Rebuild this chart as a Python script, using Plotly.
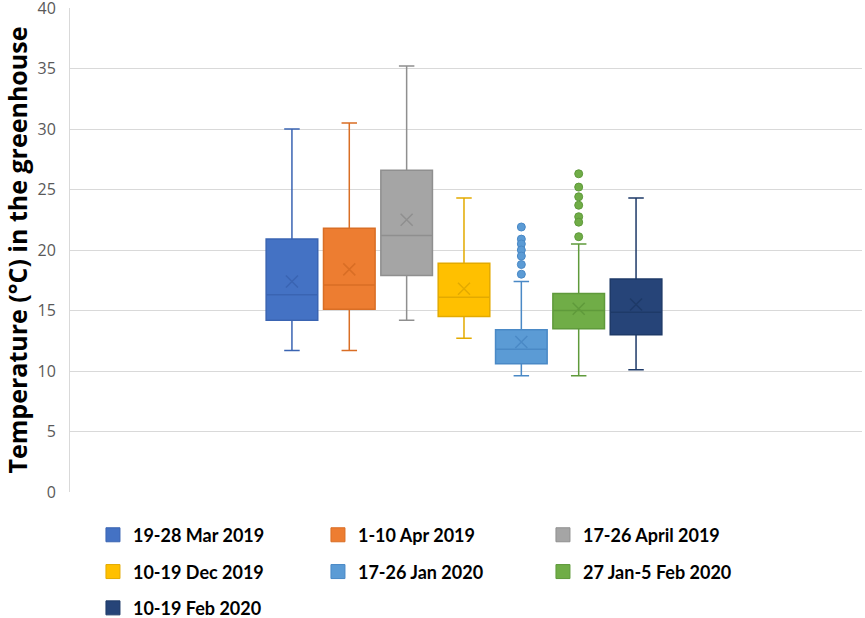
import plotly.graph_objects as go

# periods and box statistics (deg C)
periods = ["19-28 Mar 2019", "1-10 Apr 2019", "17-26 April 2019", "10-19 Dec 2019",
           "17-26 Jan 2020", "27 Jan-5 Feb 2020", "10-19 Feb 2020"]
lower = [11.7, 11.7, 14.2, 12.7, 9.6, 9.6, 10.1]
q1 = [14.2, 15.1, 17.9, 14.5, 10.6, 13.5, 13.0]
median = [16.3, 17.1, 21.2, 16.1, 11.8, 15.0, 14.85]
q3 = [20.9, 21.8, 26.6, 18.9, 13.4, 16.4, 17.6]
upper = [30.0, 30.5, 35.2, 24.3, 17.4, 20.5, 24.3]
mean = [17.4, 18.4, 22.5, 16.8, 12.4, 15.15, 15.5]
outliers = {
    4: [21.9, 20.9, 20.5, 20.0, 19.5, 18.8, 18.0],
    5: [26.3, 25.2, 24.4, 23.7, 22.75, 22.3, 21.1],
}

fills = ["#4472C4", "#ED7D31", "#A5A5A5", "#FFC000", "#5B9BD5", "#70AD47", "#264478"]
lines = ["#3A64B2", "#D96E25", "#8F8F8F", "#E3AA00", "#4A89C6", "#5F9A3B", "#1E3A68"]

fig = go.Figure()

for i, name in enumerate(periods):
    pos = i + 1
    fig.add_trace(go.Box(
        x=[pos], q1=[q1[i]], median=[median[i]], q3=[q3[i]],
        lowerfence=[lower[i]], upperfence=[upper[i]],
        width=0.9, whiskerwidth=0.3,
        fillcolor=fills[i], line=dict(color=lines[i], width=1.5),
        showlegend=False, hoverinfo="skip",
    ))
    fig.add_trace(go.Scatter(
        x=[pos], y=[mean[i]], mode="markers", showlegend=False, hoverinfo="skip",
        marker=dict(symbol="x-thin", size=12, line=dict(color=lines[i], width=1.5)),
    ))
    if i in outliers:
        pts = outliers[i]
        fig.add_trace(go.Scatter(
            x=[pos] * len(pts), y=pts, mode="markers", showlegend=False, hoverinfo="skip",
            marker=dict(symbol="circle", size=8, color=fills[i], line=dict(color=lines[i], width=1)),
        ))
    # legend entry, three per row
    leg = ["legend", "legend2", "legend3"][i // 3]
    fig.add_trace(go.Scatter(
        x=[None], y=[None], mode="markers", name=name, legend=leg,
        marker=dict(symbol="square", size=14, color=fills[i], line=dict(color=lines[i], width=1)),
    ))

legend_font = dict(family="Lato", size=18, color="#000000", weight="bold")
legend_common = dict(orientation="h", xanchor="left", yanchor="middle", x=0.029,
                     entrywidth=180, entrywidthmode="pixels", font=legend_font,
                     bgcolor="rgba(0,0,0,0)", borderwidth=0)

fig.update_layout(
    width=865, height=618,
    margin=dict(l=70, r=3, t=8, b=126, autoexpand=False),
    plot_bgcolor="white", paper_bgcolor="white",
    legend=dict(y=-0.089, **legend_common),
    legend2=dict(y=-0.165, **legend_common),
    legend3=dict(y=-0.240, **legend_common),
    xaxis=dict(range=[-2.87, 10.94], showticklabels=False, showgrid=False,
               zeroline=False, showline=False, ticks="", automargin=False),
    yaxis=dict(
        range=[0, 40], dtick=5, tick0=0, automargin=False,
        ticklabeloverflow="allow", ticklabelstandoff=10,
        showgrid=True, gridcolor="#D9D9D9", gridwidth=1,
        zeroline=False, showline=True, linecolor="#D9D9D9", linewidth=1,
        tickfont=dict(family="Open Sans", size=16, color="#595959"),
        title=dict(text="Temperature (°C) in the greenhouse", standoff=14,
                   font=dict(family="Open Sans", size=25, color="#000000", weight="bold")),
    ),
)

# drop the browser's default page margin so the figure sits at the window corner
fig.write_html("out.html", config={"displayModeBar": False},
               post_script="document.body.style.margin = '0';")
